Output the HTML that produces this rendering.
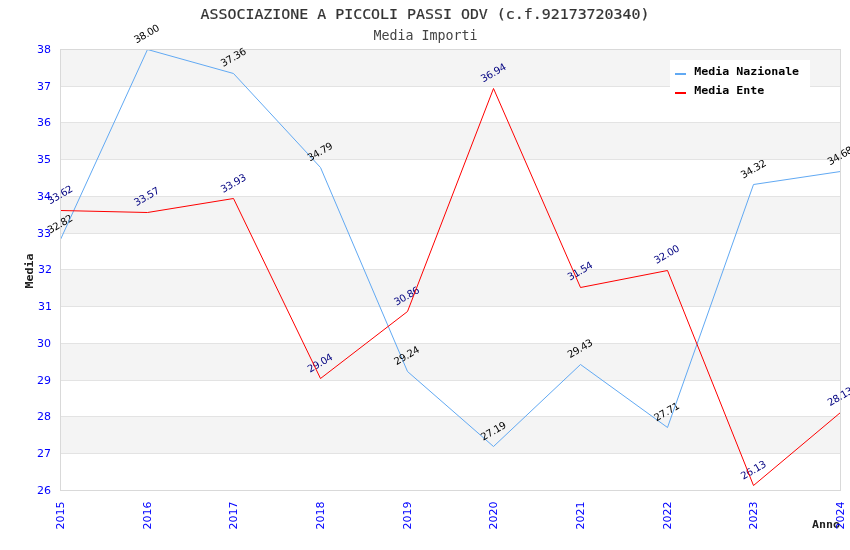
<!DOCTYPE html><html><head><meta charset="utf-8"><title>Media Importi</title><style>
html,body{margin:0;padding:0;background:#fff;}svg{display:block;}
.ax{font-family:"DejaVu Sans",sans-serif;font-size:11px;fill:#0000ff;}
.v{font-family:"DejaVu Sans",sans-serif;font-size:10px;}
.mono{font-family:"DejaVu Sans Mono","Liberation Mono",monospace;}
</style></head><body>
<svg width="850" height="550" viewBox="0 0 850 550">
<rect width="850" height="550" fill="#fff"/>
<defs><clipPath id="pa"><rect x="61" y="50" width="779" height="440"/></clipPath></defs>
<rect x="61" y="49" width="779" height="37" fill="#f4f4f4"/>
<rect x="61" y="122" width="779" height="37" fill="#f4f4f4"/>
<rect x="61" y="196" width="779" height="37" fill="#f4f4f4"/>
<rect x="61" y="269" width="779" height="37" fill="#f4f4f4"/>
<rect x="61" y="343" width="779" height="37" fill="#f4f4f4"/>
<rect x="61" y="416" width="779" height="37" fill="#f4f4f4"/>
<line x1="60" y1="86.5" x2="840" y2="86.5" stroke="#e3e3e3" stroke-width="1" shape-rendering="crispEdges"/>
<line x1="60" y1="122.5" x2="840" y2="122.5" stroke="#e3e3e3" stroke-width="1" shape-rendering="crispEdges"/>
<line x1="60" y1="159.5" x2="840" y2="159.5" stroke="#e3e3e3" stroke-width="1" shape-rendering="crispEdges"/>
<line x1="60" y1="196.5" x2="840" y2="196.5" stroke="#e3e3e3" stroke-width="1" shape-rendering="crispEdges"/>
<line x1="60" y1="233.5" x2="840" y2="233.5" stroke="#e3e3e3" stroke-width="1" shape-rendering="crispEdges"/>
<line x1="60" y1="269.5" x2="840" y2="269.5" stroke="#e3e3e3" stroke-width="1" shape-rendering="crispEdges"/>
<line x1="60" y1="306.5" x2="840" y2="306.5" stroke="#e3e3e3" stroke-width="1" shape-rendering="crispEdges"/>
<line x1="60" y1="343.5" x2="840" y2="343.5" stroke="#e3e3e3" stroke-width="1" shape-rendering="crispEdges"/>
<line x1="60" y1="380.5" x2="840" y2="380.5" stroke="#e3e3e3" stroke-width="1" shape-rendering="crispEdges"/>
<line x1="60" y1="416.5" x2="840" y2="416.5" stroke="#e3e3e3" stroke-width="1" shape-rendering="crispEdges"/>
<line x1="60" y1="453.5" x2="840" y2="453.5" stroke="#e3e3e3" stroke-width="1" shape-rendering="crispEdges"/>
<rect x="60.5" y="49.5" width="780" height="441" fill="none" stroke="#d9d9d9" stroke-width="1" shape-rendering="crispEdges"/>
<text class="mono" transform="translate(33.3,271) rotate(-90) scale(1.057,1)" text-anchor="middle" font-weight="bold" font-size="11px" fill="#222222">Media</text>
<text class="mono" transform="translate(840,528) scale(1.057,1)" text-anchor="end" font-weight="bold" font-size="11px" fill="#222222">Anno</text>
<text class="ax" x="50.9" y="494" text-anchor="end">26</text>
<text class="ax" x="50.9" y="457" text-anchor="end">27</text>
<text class="ax" x="50.9" y="420" text-anchor="end">28</text>
<text class="ax" x="50.9" y="384" text-anchor="end">29</text>
<text class="ax" x="50.9" y="347" text-anchor="end">30</text>
<text class="ax" x="51.9" y="310" text-anchor="end">31</text>
<text class="ax" x="51.9" y="273" text-anchor="end">32</text>
<text class="ax" x="50.9" y="237" text-anchor="end">33</text>
<text class="ax" x="50.9" y="200" text-anchor="end">34</text>
<text class="ax" x="50.9" y="163" text-anchor="end">35</text>
<text class="ax" x="50.9" y="126" text-anchor="end">36</text>
<text class="ax" x="50.9" y="90" text-anchor="end">37</text>
<text class="ax" x="50.9" y="53" text-anchor="end">38</text>
<text class="ax" transform="translate(60.5,529.6) rotate(-90)" dominant-baseline="central">2015</text>
<text class="ax" transform="translate(147.2,529.6) rotate(-90)" dominant-baseline="central">2016</text>
<text class="ax" transform="translate(233.8,529.6) rotate(-90)" dominant-baseline="central">2017</text>
<text class="ax" transform="translate(320.5,529.6) rotate(-90)" dominant-baseline="central">2018</text>
<text class="ax" transform="translate(407.2,529.6) rotate(-90)" dominant-baseline="central">2019</text>
<text class="ax" transform="translate(493.8,529.6) rotate(-90)" dominant-baseline="central">2020</text>
<text class="ax" transform="translate(580.5,529.6) rotate(-90)" dominant-baseline="central">2021</text>
<text class="ax" transform="translate(667.2,529.6) rotate(-90)" dominant-baseline="central">2022</text>
<text class="ax" transform="translate(753.8,529.6) rotate(-90)" dominant-baseline="central">2023</text>
<text class="ax" transform="translate(840.5,529.6) rotate(-90)" dominant-baseline="central">2024</text>
<text class="v" fill="#000" transform="translate(59.80,223.86) rotate(-30)" x="-13.5 -7.5 -1.5 1.5 7.5" y="3.65">32.82</text>
<line x1="60.5" y1="239.5" x2="147.5" y2="49.5" stroke="#61a9f3" stroke-width="1" clip-path="url(#pa)"/>
<text class="v" fill="#000" transform="translate(146.47,33.50) rotate(-30)" x="-13.5 -7.5 -1.5 1.5 7.5" y="3.65">38.00</text>
<line x1="147.5" y1="49.5" x2="233.5" y2="73.5" stroke="#61a9f3" stroke-width="1" clip-path="url(#pa)"/>
<text class="v" fill="#000" transform="translate(233.13,57.02) rotate(-30)" x="-13.5 -7.5 -1.5 1.5 7.5" y="3.65">37.36</text>
<line x1="233.5" y1="73.5" x2="320.5" y2="167.5" stroke="#61a9f3" stroke-width="1" clip-path="url(#pa)"/>
<text class="v" fill="#000" transform="translate(319.80,151.47) rotate(-30)" x="-13.5 -7.5 -1.5 1.5 7.5" y="3.65">34.79</text>
<line x1="320.5" y1="167.5" x2="407.5" y2="371.5" stroke="#61a9f3" stroke-width="1" clip-path="url(#pa)"/>
<text class="v" fill="#000" transform="translate(406.47,355.43) rotate(-30)" x="-13.5 -7.5 -1.5 1.5 7.5" y="3.65">29.24</text>
<line x1="407.5" y1="371.5" x2="493.5" y2="446.5" stroke="#61a9f3" stroke-width="1" clip-path="url(#pa)"/>
<text class="v" fill="#000" transform="translate(493.13,430.77) rotate(-30)" x="-13.5 -7.5 -1.5 1.5 7.5" y="3.65">27.19</text>
<line x1="493.5" y1="446.5" x2="580.5" y2="364.5" stroke="#61a9f3" stroke-width="1" clip-path="url(#pa)"/>
<text class="v" fill="#000" transform="translate(579.80,348.45) rotate(-30)" x="-13.5 -7.5 -1.5 1.5 7.5" y="3.65">29.43</text>
<line x1="580.5" y1="364.5" x2="667.5" y2="427.5" stroke="#61a9f3" stroke-width="1" clip-path="url(#pa)"/>
<text class="v" fill="#000" transform="translate(666.47,411.66) rotate(-30)" x="-13.5 -7.5 -1.5 1.5 7.5" y="3.65">27.71</text>
<line x1="667.5" y1="427.5" x2="753.5" y2="184.5" stroke="#61a9f3" stroke-width="1" clip-path="url(#pa)"/>
<text class="v" fill="#000" transform="translate(753.13,168.74) rotate(-30)" x="-13.5 -7.5 -1.5 1.5 7.5" y="3.65">34.32</text>
<line x1="753.5" y1="184.5" x2="840.5" y2="171.5" stroke="#61a9f3" stroke-width="1" clip-path="url(#pa)"/>
<text class="v" fill="#000" transform="translate(839.80,155.51) rotate(-30)" x="-13.5 -7.5 -1.5 1.5 7.5" y="3.65">34.68</text>
<text class="v" fill="#000080" transform="translate(59.80,194.47) rotate(-30)" x="-13.5 -7.5 -1.5 1.5 7.5" y="3.65">33.62</text>
<text class="v" fill="#000080" transform="translate(146.47,196.30) rotate(-30)" x="-13.5 -7.5 -1.5 1.5 7.5" y="3.65">33.57</text>
<text class="v" fill="#000080" transform="translate(233.13,183.07) rotate(-30)" x="-13.5 -7.5 -1.5 1.5 7.5" y="3.65">33.93</text>
<text class="v" fill="#000080" transform="translate(319.80,362.78) rotate(-30)" x="-13.5 -7.5 -1.5 1.5 7.5" y="3.65">29.04</text>
<text class="v" fill="#000080" transform="translate(406.47,295.89) rotate(-30)" x="-13.5 -7.5 -1.5 1.5 7.5" y="3.65">30.86</text>
<text class="v" fill="#000080" transform="translate(493.13,72.46) rotate(-30)" x="-13.5 -7.5 -1.5 1.5 7.5" y="3.65">36.94</text>
<text class="v" fill="#000080" transform="translate(579.80,270.91) rotate(-30)" x="-13.5 -7.5 -1.5 1.5 7.5" y="3.65">31.54</text>
<text class="v" fill="#000080" transform="translate(666.47,254.00) rotate(-30)" x="-13.5 -7.5 -1.5 1.5 7.5" y="3.65">32.00</text>
<text class="v" fill="#000080" transform="translate(753.13,469.72) rotate(-30)" x="-13.5 -7.5 -1.5 1.5 7.5" y="3.65">26.13</text>
<text class="v" fill="#000080" transform="translate(839.80,396.22) rotate(-30)" x="-13.5 -7.5 -1.5 1.5 7.5" y="3.65">28.13</text>
<polyline points="60.5,210.5 147.5,212.5 233.5,198.5 320.5,378.5 407.5,311.5 493.5,88.5 580.5,287.5 667.5,270.5 753.5,485.5 840.5,412.5" fill="none" stroke="#ff0000" stroke-width="1" clip-path="url(#pa)"/>
<rect x="670" y="60" width="140" height="42" fill="#fff"/>
<rect x="675" y="73" width="11" height="2" fill="#61a9f3"/>
<rect x="675" y="92" width="11" height="2" fill="#ff0000"/>
<text class="mono" transform="translate(694.3,75) scale(1.057,1)" font-weight="bold" font-size="11px" fill="#000">Media Nazionale</text>
<text class="mono" transform="translate(694.3,94) scale(1.057,1)" font-weight="bold" font-size="11px" fill="#000">Media Ente</text>
<text class="mono" transform="translate(200.5,19) scale(1.09,1)" font-size="13.7px" fill="#333333" stroke="#333333" stroke-width="0.2">ASSOCIAZIONE A PICCOLI PASSI ODV (c.f.92173720340)</text>
<text class="mono" x="425.5" y="39.5" text-anchor="middle" font-size="13.3px" fill="#444">Media Importi</text>
</svg></body></html>
